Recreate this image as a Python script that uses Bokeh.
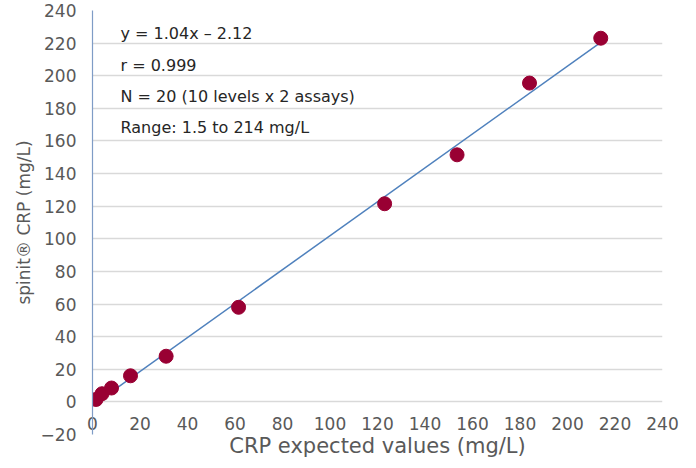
from bokeh.plotting import figure
from bokeh.models import Range1d, Label, FixedTicker
from bokeh.embed import file_html
from bokeh.resources import INLINE

# data
expected = [1.5, 4, 8, 16, 31, 61.5, 123, 153.5, 184, 214]
measured = [1.5, 5, 8.5, 16, 28, 58, 121.5, 151.5, 195.5, 223]
slope, intercept = 1.04, -2.12
fit_x = [1.5, 214]
fit_y = [slope * x + intercept for x in fit_x]

x_ticks = list(range(0, 241, 20))
y_ticks = list(range(-20, 241, 20))

notes = ["y = 1.04x \u2013 2.12", "r = 0.999", "N = 20 (10 levels x 2 assays)", "Range: 1.5 to 214 mg/L"]
note_y = [226, 206.5, 187.3, 168]

FONT = "DejaVu Sans"
GRAY = "#595959"

p = figure(width=680, height=460, x_range=Range1d(0, 240), y_range=Range1d(-20, 240),
           output_backend="svg", toolbar_location=None,
           min_border_left=92, min_border_right=18, min_border_top=10, min_border_bottom=24)
p.outline_line_color = None
p.background_fill_color = "white"

xa = p.xaxis[0]
xa.ticker = FixedTicker(ticks=x_ticks)
xa.axis_line_color = None
xa.major_tick_line_color = None
xa.minor_tick_line_color = None
xa.major_label_text_font = FONT
xa.major_label_text_font_size = "17px"
xa.major_label_text_color = GRAY
xa.major_label_standoff = -24
xa.axis_label = "CRP expected values (mg/L)"
xa.axis_label_standoff = 1
xa.axis_label_text_font = FONT
xa.axis_label_text_font_size = "21px"
xa.axis_label_text_font_style = "normal"
xa.axis_label_text_color = GRAY

ya = p.yaxis[0]
ya.ticker = FixedTicker(ticks=y_ticks)
ya.axis_line_color = "#7F9CC6"
ya.axis_line_width = 1.2
ya.major_tick_line_color = None
ya.minor_tick_line_color = None
ya.major_label_text_font = FONT
ya.major_label_text_font_size = "17px"
ya.major_label_text_color = GRAY
ya.major_label_standoff = 10
ya.axis_label = "spinit\u00ae CRP (mg/L)"
ya.axis_label_text_font = FONT
ya.axis_label_text_font_size = "17px"
ya.axis_label_text_font_style = "normal"
ya.axis_label_text_color = GRAY
ya.axis_label_standoff = 4

p.xgrid.visible = False
p.ygrid.ticker = FixedTicker(ticks=y_ticks)
p.ygrid.grid_line_color = "#d9d9d9"
p.ygrid.grid_line_width = 1.5

p.line(fit_x, fit_y, line_color="#4F81BD", line_width=1.5)
p.scatter(expected, measured, size=14, fill_color="#990033", line_color="#990033")

for t, yv in zip(notes, note_y):
    p.add_layout(Label(x=11.8, y=yv, text=t, text_font=FONT, text_font_size="16px",
                       text_color="#262626", text_baseline="middle"))

open("out.html", "w").write(file_html(p, INLINE))
